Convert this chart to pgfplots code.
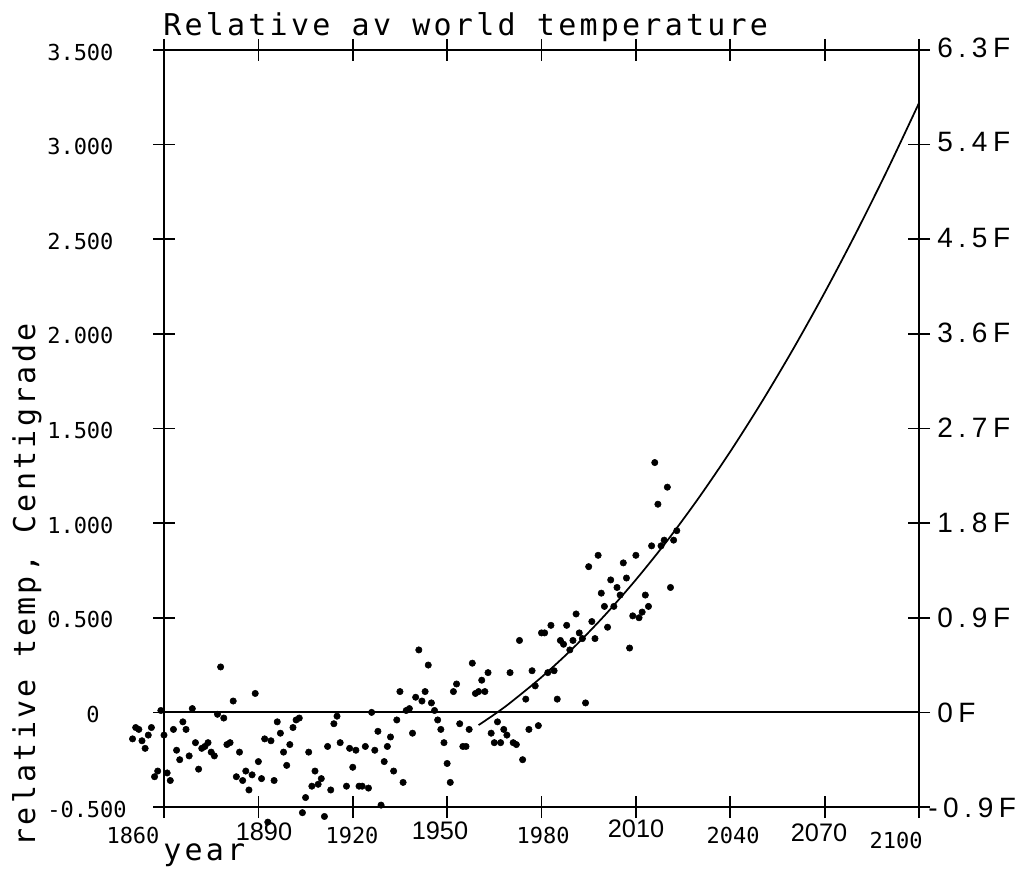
\documentclass[border=0pt]{standalone}
\usepackage{fontspec}
\usepackage{pgfplots}
\pgfplotsset{compat=1.18}
\newfontfamily\plotfont{DejaVu Sans Mono}
\newfontfamily\plotwide{DejaVu Sans Mono}[LetterSpace=10.8]
\newfontfamily\handfont{Liberation Sans}
\newfontfamily\handwide{Liberation Sans}[LetterSpace=20]
\newcommand{\tickf}{\plotfont\fontsize{16.5pt}{18pt}\selectfont}
\newcommand{\bigf}{\plotwide\fontsize{22.5pt}{26pt}\selectfont}
\newcommand{\handy}{\handfont\fontsize{19pt}{21pt}\selectfont}
\newcommand{\handF}{\handwide\fontsize{21pt}{23pt}\selectfont}

\pgfplotstableread{
x y
1850 -0.14
1851 -0.08
1852 -0.09
1853 -0.15
1854 -0.19
1855 -0.12
1856 -0.08
1857 -0.34
1858 -0.31
1859 0.01
1860 -0.12
1861 -0.32
1862 -0.36
1863 -0.09
1864 -0.20
1865 -0.25
1866 -0.05
1867 -0.09
1868 -0.23
1869 0.02
1870 -0.16
1871 -0.30
1872 -0.19
1873 -0.18
1874 -0.16
1875 -0.21
1876 -0.23
1877 -0.01
1878 0.24
1879 -0.03
1880 -0.17
1881 -0.16
1882 0.06
1883 -0.34
1884 -0.21
1885 -0.36
1886 -0.31
1887 -0.41
1888 -0.33
1889 0.10
1890 -0.26
1891 -0.35
1892 -0.14
1893 -0.58
1894 -0.15
1895 -0.36
1896 -0.05
1897 -0.11
1898 -0.21
1899 -0.28
1900 -0.17
1901 -0.08
1902 -0.04
1903 -0.03
1904 -0.53
1905 -0.45
1906 -0.21
1907 -0.39
1908 -0.31
1909 -0.38
1910 -0.35
1911 -0.55
1912 -0.18
1913 -0.41
1914 -0.06
1915 -0.02
1916 -0.16
1918 -0.39
1919 -0.19
1920 -0.29
1921 -0.20
1922 -0.39
1923 -0.39
1924 -0.18
1925 -0.40
1926 0.00
1927 -0.20
1928 -0.10
1929 -0.49
1930 -0.26
1931 -0.18
1932 -0.13
1933 -0.31
1934 -0.04
1935 0.11
1936 -0.37
1937 0.01
1938 0.02
1939 -0.11
1940 0.08
1941 0.33
1942 0.06
1943 0.11
1944 0.25
1945 0.05
1946 0.01
1947 -0.04
1948 -0.09
1949 -0.16
1950 -0.27
1951 -0.37
1952 0.11
1953 0.15
1954 -0.06
1955 -0.18
1956 -0.18
1957 -0.09
1958 0.26
1959 0.10
1960 0.11
1961 0.17
1962 0.11
1963 0.21
1964 -0.11
1965 -0.16
1966 -0.05
1967 -0.16
1968 -0.09
1969 -0.12
1970 0.21
1971 -0.16
1972 -0.17
1973 0.38
1974 -0.25
1975 0.07
1976 -0.09
1977 0.22
1978 0.14
1979 -0.07
1980 0.42
1981 0.42
1982 0.21
1983 0.46
1984 0.22
1985 0.07
1986 0.38
1987 0.36
1988 0.46
1989 0.33
1990 0.38
1991 0.52
1992 0.42
1993 0.39
1994 0.05
1995 0.77
1996 0.48
1997 0.39
1998 0.83
1999 0.63
2000 0.56
2001 0.45
2002 0.70
2003 0.56
2004 0.66
2005 0.62
2006 0.79
2007 0.71
2008 0.34
2009 0.51
2010 0.83
2011 0.50
2012 0.53
2013 0.62
2014 0.56
2015 0.88
2016 1.32
2017 1.10
2018 0.88
2019 0.91
2020 1.19
2021 0.66
2022 0.91
2023 0.96
}\temps

\pgfplotstableread{
x y
1960 -0.067
1965 -0.011
1970 0.050
1980 0.186
1990 0.339
2000 0.511
2010 0.701
2020 0.908
2030 1.134
2040 1.378
2050 1.640
2060 1.920
2070 2.218
2080 2.534
2090 2.868
2100 3.220
}\fit

\begin{document}
\begin{tikzpicture}
\path[use as bounding box] (0,0) rectangle (767.25pt,667.5pt);
\begin{axis}[
  at={(123pt,62.25pt)}, anchor=south west,
  scale only axis, width=566.25pt, height=567.75pt,
  xmin=1860, xmax=2100, ymin=-0.5, ymax=3.5,
  clip=false,
  axis line style={line width=1.4pt, black},
  xtick={1860,1890,...,2100},
  ytick={-0.5,0,...,3.5},
  xticklabels={,,,,,,,,},
  yticklabels={,,,,,,,,},
  tick align=center, major tick length=16.5pt,
  tick style={line width=1.3pt, black},
  xtick pos=both, ytick pos=both,
]
\addplot[black, line width=1.4pt] coordinates {(1860,0) (2100,0)};
\addplot[black, line width=1.3pt, smooth] table[x=x,y=y] {\fit};
\addplot[only marks, mark=*, mark size=2.4pt, black] table[x=x,y=y] {\temps};
\end{axis}
\begin{scope}[x=0.75pt,y=-0.75pt,shift={(0pt,667.5pt)}]
% title and axis labels
\node[anchor=base west, inner sep=0, font=\bigf] at (163,36) {Relative av world temperature};
\node[anchor=base west, inner sep=0, font=\bigf] at (163,860) {year};
\node[anchor=base, inner sep=0, rotate=90, font=\bigf] at (35,585) {relative temp, Centigrade};
% left tick labels
\foreach \lab/\yy in {3.500/50, 3.000/144.6, 2.500/239.3, 2.000/333.9, 1.500/428.5, 1.000/523.2, 0.500/617.8, -0.500/807}
  \node[anchor=west, inner sep=0, font=\tickf] at (47,\yy+2) {\lab};
\node[inner sep=0, font=\tickf] at (93,714) {0};
% bottom tick labels
\node[inner sep=0, font=\tickf] at (133,835) {1860};
\node[inner sep=0, font=\tickf] at (352,835) {1920};
\node[inner sep=0, font=\tickf] at (543,835) {1980};
\node[inner sep=0, font=\tickf] at (733,835) {2040};
\node[inner sep=0, font=\tickf] at (896,840) {2100};
\node[inner sep=0, font=\handy] at (264,832) {1890};
\node[inner sep=0, font=\handy] at (440,831) {1950};
\node[inner sep=0, font=\handy] at (636,829) {2010};
\node[inner sep=0, font=\handy] at (819,833) {2070};
% right labels (Fahrenheit)
\foreach \lab/\yy in {6.3F/48, 5.4F/142, 4.5F/238, 3.6F/333, 2.7F/428, 1.8F/523, 0.9F/618, 0F/713}
  \node[anchor=west, inner sep=0, font=\handF] at (937,\yy) {\lab};
\node[anchor=west, inner sep=0, font=\handF] at (928,808) {-0.9F};
\end{scope}
\end{tikzpicture}
\end{document}
